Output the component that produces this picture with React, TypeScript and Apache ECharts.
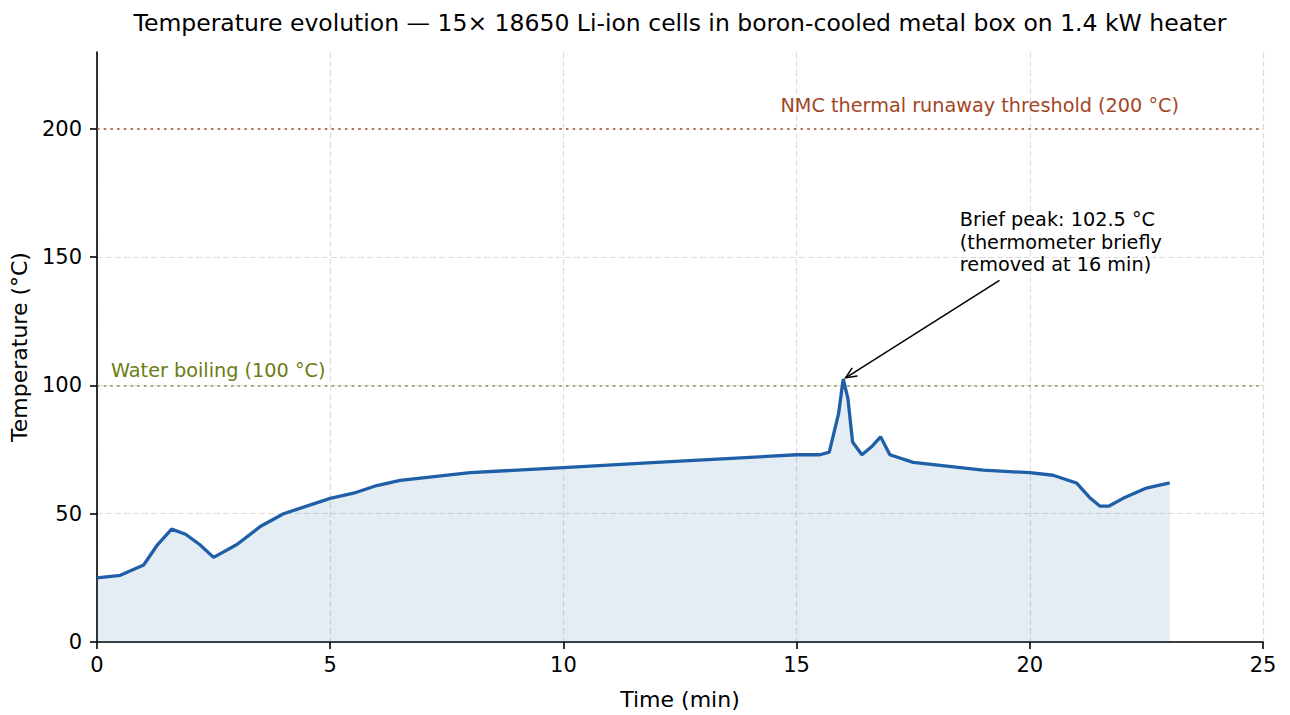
import React, { useEffect, useRef } from "react";
import * as echarts from "echarts";

const timesMin = [0, 0.5, 1, 1.3, 1.6, 1.9, 2.2, 2.5, 3, 3.5, 4, 5, 5.5, 6, 6.5, 8, 10, 12, 15, 15.5, 15.7, 15.9, 16, 16.1, 16.2, 16.4, 16.6, 16.8, 17, 17.5, 19, 20, 20.5, 21, 21.3, 21.5, 21.7, 22, 22.5, 23];
const tempsC = [25, 26, 30, 38, 44, 42, 38, 33, 38, 45, 50, 56, 58, 61, 63, 66, 68, 70, 73, 73, 74, 89, 102.5, 95, 78, 73, 76, 80, 73, 70, 67, 66, 65, 62, 56, 53, 53, 56, 60, 62];

const xTicks = [0, 5, 10, 15, 20, 25];
const yTicks = [0, 50, 100, 150, 200];

const thresholdRunaway = 200;
const thresholdBoiling = 100;

const TITLE = "Temperature evolution \u2014 15\u00d7 18650 Li-ion cells in boron-cooled metal box on 1.4 kW heater";
const RUNAWAY_LABEL = "NMC thermal runaway threshold (200 \u00b0C)";
const BOIL_LABEL = "Water boiling (100 \u00b0C)";
const PEAK_LABEL = "Brief peak: 102.5 \u00b0C\n(thermometer briefly\nremoved at 16 min)";

// annotation anchors in data coordinates
const runawayLabelPos = [23.2, 209];
const boilLabelPos = [0.3, 106];
const peakTextPos = [18.5, 169];
const arrowFrom = [19.35, 141];
const arrowTo = [16.05, 103];

const FONT = "'DejaVu Sans', sans-serif";
const LINE_COLOR = "#1f5fa8";
const RUNAWAY_COLOR = "#a3461f";
const BOIL_COLOR = "#6b7c14";

export default function App() {
  const ref = useRef<HTMLDivElement>(null);

  useEffect(() => {
    if (!ref.current) return;
    const chart = echarts.init(ref.current, null, { renderer: "svg" });
    const data = timesMin.map((t, i) => [t, tempsC[i]]);

    chart.setOption({
      animation: false,
      backgroundColor: "#ffffff",
      textStyle: { fontFamily: FONT },
      title: {
        text: TITLE,
        left: 675,
        textAlign: "center",
        top: 6,
        textStyle: { fontFamily: FONT, fontSize: 23.5, fontWeight: "normal", color: "#000" },
      },
      grid: { left: 97, top: 52, width: 1166, height: 591, containLabel: false },
      xAxis: {
        type: "value",
        min: 0,
        max: 25,
        interval: 5,
        name: "Time (min)",
        nameLocation: "middle",
        nameGap: 46,
        nameTextStyle: { fontFamily: FONT, fontSize: 22, color: "#000" },
        axisLine: { show: true, onZero: false, lineStyle: { color: "#000", width: 1.6 } },
        axisTick: { show: true, length: 7, lineStyle: { color: "#000", width: 1.6 } },
        axisLabel: { fontFamily: FONT, fontSize: 21, color: "#000", margin: 12, customValues: xTicks },
        splitLine: { show: true, lineStyle: { color: "#dedede", width: 1.2, type: [6, 3] } },
      },
      yAxis: {
        type: "value",
        min: 0,
        max: 230,
        interval: 50,
        name: "Temperature (\u00b0C)",
        nameLocation: "middle",
        nameGap: 67,
        nameTextStyle: { fontFamily: FONT, fontSize: 22, color: "#000" },
        axisLine: { show: true, onZero: false, lineStyle: { color: "#000", width: 1.6 } },
        axisTick: { show: true, length: 7, lineStyle: { color: "#000", width: 1.6 }, customValues: yTicks },
        axisLabel: { fontFamily: FONT, fontSize: 21, color: "#000", margin: 15, customValues: yTicks },
        splitLine: { show: true, showMaxLine: false, lineStyle: { color: "#dedede", width: 1.2, type: [6, 3] } },
      },
      series: [
        {
          type: "line",
          data,
          symbol: "none",
          smooth: false,
          z: 5,
          lineStyle: { color: LINE_COLOR, width: 3.3 },
          itemStyle: { color: LINE_COLOR },
          areaStyle: { color: LINE_COLOR, opacity: 0.12 },
          markLine: {
            silent: true,
            symbol: ["none", "none"],
            label: { show: false },
            data: [
              { yAxis: thresholdRunaway, lineStyle: { color: "#a0522d", opacity: 0.8, width: 2, type: [2.5, 4.2] } },
              { yAxis: thresholdBoiling, lineStyle: { color: "#6b7c14", opacity: 0.6, width: 2, type: [2.5, 4.2] } },
            ],
          },
        },
      ],
    });

    const px = (p: number[]) => chart.convertToPixel({ gridIndex: 0 }, p) as number[];
    const a0 = px(arrowFrom);
    const a1 = px(arrowTo);
    const dx = a1[0] - a0[0];
    const dy = a1[1] - a0[1];
    const len = Math.sqrt(dx * dx + dy * dy);
    const ux = dx / len;
    const uy = dy / len;
    const headLen = 12;
    const ang = (24 * Math.PI) / 180;
    const rot = (x: number, y: number, a: number) => [x * Math.cos(a) - y * Math.sin(a), x * Math.sin(a) + y * Math.cos(a)];
    const r1 = rot(ux, uy, ang);
    const r2 = rot(ux, uy, -ang);
    const h1 = [a1[0] - headLen * r1[0], a1[1] - headLen * r1[1]];
    const h2 = [a1[0] - headLen * r2[0], a1[1] - headLen * r2[1]];

    const rl = px(runawayLabelPos);
    const bl = px(boilLabelPos);
    const pt = px(peakTextPos);

    chart.setOption({
      graphic: [
        {
          type: "text",
          x: rl[0],
          y: rl[1],
          z: 10,
          style: { text: RUNAWAY_LABEL, fill: RUNAWAY_COLOR, font: `19.25px ${FONT}`, textAlign: "right", textVerticalAlign: "middle" },
        },
        {
          type: "text",
          x: bl[0],
          y: bl[1],
          z: 10,
          style: { text: BOIL_LABEL, fill: BOIL_COLOR, font: `19.25px ${FONT}`, textAlign: "left", textVerticalAlign: "middle" },
        },
        {
          type: "text",
          x: pt[0],
          y: pt[1],
          z: 10,
          style: { text: PEAK_LABEL, fill: "#000", font: `19.25px ${FONT}`, lineHeight: 22.5, textAlign: "left", textVerticalAlign: "top" },
        },
        {
          type: "line",
          z: 10,
          shape: { x1: a0[0], y1: a0[1], x2: a1[0], y2: a1[1] },
          style: { stroke: "#000", lineWidth: 1.5 },
        },
        {
          type: "polyline",
          z: 10,
          shape: { points: [h1, a1, h2] },
          style: { stroke: "#000", lineWidth: 1.5, fill: null },
        },
      ],
    });

    return () => chart.dispose();
  }, []);

  return <div ref={ref} style={{ position: "absolute", left: 0, top: 0, width: 1290, height: 715 }} />;
}
